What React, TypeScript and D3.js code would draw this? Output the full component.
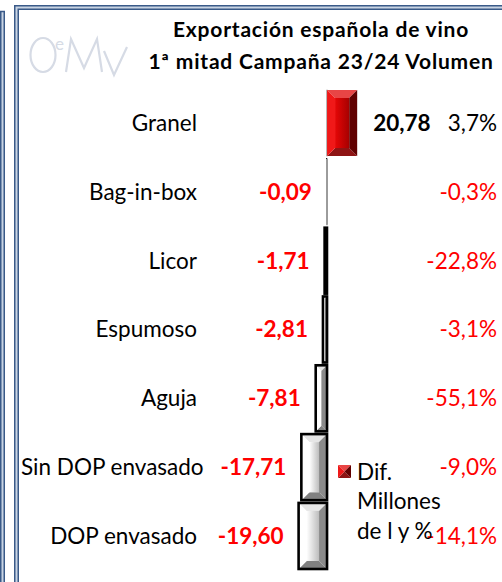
import React, { useEffect, useRef } from "react";
import * as d3 from "d3";

// data
const categories = [
  "Granel",
  "Bag-in-box",
  "Licor",
  "Espumoso",
  "Aguja",
  "Sin DOP envasado",
  "DOP envasado",
];
const difValues = [20.78, -0.09, -1.71, -2.81, -7.81, -17.71, -19.6];
const pctValues = [3.7, -0.3, -22.8, -3.1, -55.1, -9.0, -14.1];
const titleLines = ["Exportación española de vino", "1ª mitad Campaña 23/24 Volumen"];
const legendLines = ["Dif.", "Millones", "de l y %"];

const FONT = "Lato, 'Open Sans', sans-serif";
const W = 502;
const H = 582;
const FS = 22.5;

const es = d3.formatLocale({
  decimal: ",",
  thousands: ".",
  grouping: [3],
  currency: ["", " €"],
  minus: "-",
});
const fmtDif = es.format(".2f");
const fmtPct = (v: number) => es.format(".1f")(v) + "%";

type Facets = { top: string; left: string; right: string; bottom: string; face: string };

const redFacets: Facets = {
  top: "#e84545",
  left: "#f01818",
  right: "#600000",
  bottom: "#8e1414",
  face: "url(#redFace)",
};
const greyFacets: Facets = {
  top: "#e6e6e6",
  left: "#ffffff",
  right: "#8a8a8a",
  bottom: "#808080",
  face: "url(#greyFace)",
};

function bevelBar(g: any, x0: number, y0: number, w: number, h: number, f: Facets, outline: boolean) {
  const x1 = x0 + w;
  const y1 = y0 + h;
  const b = Math.min(w / 2, 8);
  const poly = (pts: number[][], fill: string) =>
    g.append("polygon").attr("points", pts.map((p) => p.join(",")).join(" ")).attr("fill", fill);
  poly([[x0, y0], [x1, y0], [x1 - b, y0 + b], [x0 + b, y0 + b]], f.top);
  poly([[x0, y1], [x1, y1], [x1 - b, y1 - b], [x0 + b, y1 - b]], f.bottom);
  poly([[x0, y0], [x0 + b, y0 + b], [x0 + b, y1 - b], [x0, y1]], f.left);
  poly([[x1, y0], [x1 - b, y0 + b], [x1 - b, y1 - b], [x1, y1]], f.right);
  g.append("rect")
    .attr("x", x0 + b)
    .attr("y", y0 + b)
    .attr("width", Math.max(0, w - 2 * b))
    .attr("height", Math.max(0, h - 2 * b))
    .attr("fill", f.face);
  if (outline) {
    g.append("rect")
      .attr("x", x0)
      .attr("y", y0)
      .attr("width", w)
      .attr("height", h)
      .attr("fill", "none")
      .attr("stroke", "#000")
      .attr("stroke-width", Math.min(2.6, w));
  }
}

export default function App() {
  const ref = useRef<SVGSVGElement>(null);

  useEffect(() => {
    document.body.style.margin = "0";
    const svg = d3.select(ref.current);
    svg.selectAll("*").remove();

    const defs = svg.append("defs");
    const red = defs.append("linearGradient").attr("id", "redFace");
    red.append("stop").attr("offset", 0).attr("stop-color", "#e60606");
    red.append("stop").attr("offset", 1).attr("stop-color", "#a60000");
    const grey = defs.append("linearGradient").attr("id", "greyFace");
    grey.append("stop").attr("offset", 0).attr("stop-color", "#ffffff");
    grey.append("stop").attr("offset", 1).attr("stop-color", "#bdbdbd");

    svg.append("rect").attr("width", W).attr("height", H).attr("fill", "#fff");

    // frames (page edge on the left, chart border)
    const frame = svg.append("g").attr("fill", "none");
    frame.append("path").attr("d", `M2.5,${H} V12.5 H5`).attr("stroke", "#c9d4e3").attr("stroke-width", 3);
    frame.append("path").attr("d", `M0.75,${H} V11`).attr("stroke", "#3a5a88").attr("stroke-width", 1.5);
    frame.append("path").attr("d", `M4.25,${H} V11.5 H0`).attr("stroke", "#3a5a88").attr("stroke-width", 1.5);
    frame.append("path").attr("d", `M16.5,${H} V7.5 H${W}`).attr("stroke", "#c9d4e3").attr("stroke-width", 3);
    frame.append("path").attr("d", `M14.75,${H} V5.75 H${W}`).attr("stroke", "#3a5a88").attr("stroke-width", 1.5);
    frame.append("path").attr("d", `M18.25,${H} V9.25 H${W}`).attr("stroke", "#3a5a88").attr("stroke-width", 1.5);

    // watermark logo
    const logo = svg.append("g").attr("fill", "none").attr("stroke", "#d6dbe5").attr("stroke-width", 2.2);
    logo.append("ellipse").attr("cx", 43).attr("cy", 55).attr("rx", 12.5).attr("ry", 17);
    logo.append("path").attr("d", "M66,72 L71,39 L84,68 L97,39 L102,72");
    logo.append("path").attr("d", "M104,51 L114,75 L127,47");
    svg
      .append("text")
      .attr("x", 55)
      .attr("y", 50)
      .attr("font-family", FONT)
      .attr("font-size", 17)
      .attr("fill", "#d6dbe5")
      .text("e");

    // title
    svg
      .append("g")
      .selectAll("text")
      .data(titleLines)
      .enter()
      .append("text")
      .attr("x", 321)
      .attr("y", (d, i) => 30 + i * 32)
      .attr("dy", "0.35em")
      .attr("text-anchor", "middle")
      .attr("font-family", FONT)
      .attr("font-weight", "bold")
      .attr("font-size", 21)
      .attr("letter-spacing", 0.8)
      .attr("fill", "#000")
      .text((d) => d);

    const x = d3.scaleLinear().domain([-20.5, 21]).range([297.3, 357.5]);
    const y = d3.scaleBand<string>().domain(categories).range([90, 569]).paddingInner(0.04);
    const bw = y.bandwidth();
    const rows = categories.map((c, i) => ({ c, v: difValues[i], p: pctValues[i] }));

    // axis, broken between bands
    svg
      .append("g")
      .selectAll("line")
      .data(categories)
      .enter()
      .append("line")
      .attr("x1", x(0))
      .attr("x2", x(0))
      .attr("y1", (d) => y(d)! - 0.3)
      .attr("y2", (d) => y(d)! + bw + 0.3)
      .attr("stroke", "#9a9a9a")
      .attr("stroke-width", 1.5);

    const bars = svg.append("g");
    rows.forEach((r) => {
      const x0 = Math.min(x(0), x(r.v));
      const w = Math.abs(x(r.v) - x(0));
      bevelBar(bars, x0, y(r.c)!, w, bw, r.v >= 0 ? redFacets : greyFacets, r.v < 0);
    });

    // category labels
    const cat = svg
      .append("g")
      .selectAll("text")
      .data(rows)
      .enter()
      .append("text")
      .attr("y", (d) => y(d.c)! + bw / 2)
      .attr("dy", "0.35em")
      .attr("text-anchor", "end")
      .attr("font-family", FONT)
      .attr("font-size", FS)
      .attr("fill", "#000")
      .text((d) => d.c);
    cat.attr("x", function () {
      const len = (this as SVGTextElement).getComputedTextLength();
      return Math.max(197, 21 + len);
    });

    // value labels
    svg
      .append("g")
      .selectAll("text")
      .data(rows)
      .enter()
      .append("text")
      .attr("x", (d) => (d.v >= 0 ? x(d.v) + 16 : x(d.v) - 15))
      .attr("y", (d) => y(d.c)! + bw / 2)
      .attr("dy", "0.35em")
      .attr("text-anchor", (d) => (d.v >= 0 ? "start" : "end"))
      .attr("font-family", FONT)
      .attr("font-weight", "bold")
      .attr("font-size", FS)
      .attr("fill", (d) => (d.v >= 0 ? "#000" : "#ff0000"))
      .text((d) => fmtDif(d.v));

    // percentage labels
    svg
      .append("g")
      .selectAll("text")
      .data(rows)
      .enter()
      .append("text")
      .attr("x", 497)
      .attr("y", (d) => y(d.c)! + bw / 2)
      .attr("dy", "0.35em")
      .attr("text-anchor", "end")
      .attr("font-family", FONT)
      .attr("font-size", FS)
      .attr("fill", (d) => (d.p >= 0 ? "#000" : "#ff0000"))
      .text((d) => fmtPct(d.p));

    // legend
    const lg = svg.append("g");
    bevelBar(lg, 338, 465, 13, 13, { ...redFacets, face: "#b00000" }, false);
    lg.selectAll("text")
      .data(legendLines)
      .enter()
      .append("text")
      .attr("x", 357)
      .attr("y", (d, i) => 472 + i * 29.5)
      .attr("dy", "0.35em")
      .attr("font-family", FONT)
      .attr("font-size", FS)
      .attr("fill", "#000")
      .text((d) => d);
  }, []);

  return <svg ref={ref} width={W} height={H} style={{ display: "block" }} />;
}
